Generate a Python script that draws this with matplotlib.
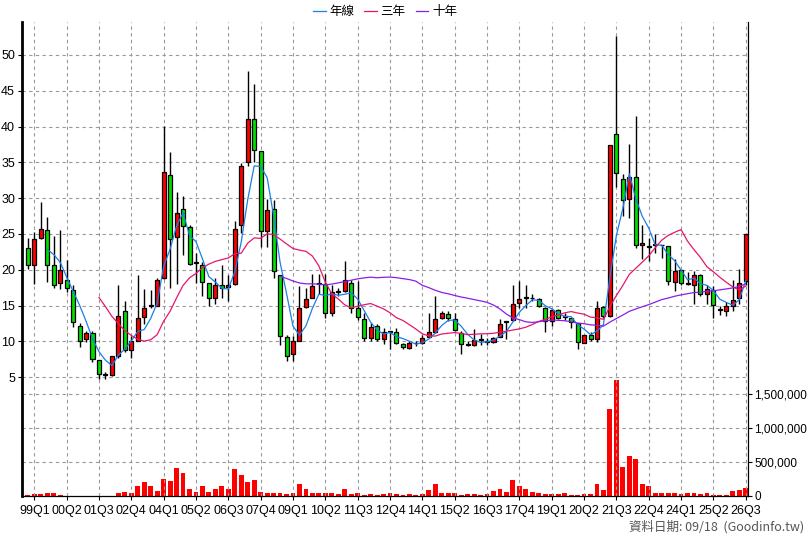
import matplotlib
matplotlib.use("Agg")
import matplotlib.pyplot as plt
import numpy as np
import pandas as pd

plt.rcParams['font.family'] = ['Liberation Sans', 'Noto Sans CJK TC', 'DejaVu Sans']

opens = [23.05,20.65,24.5,25.5,20.65,18.1,18.6,17.2,12.2,10.3,11.1,7.45,5.35,5.25,8.0,14.3,8.8,10.1,13.4,15.0,
         15.0,18.85,33.3,24.55,28.5,26.0,20.9,20.7,18.2,16.0,17.9,17.6,18.05,26.25,35.1,41.1,36.6,25.4,28.5,19.2,
         10.6,8.3,10.1,14.85,16.1,18.0,18.0,13.9,16.95,17.05,18.2,14.6,13.1,10.5,12.15,10.3,11.3,11.3,9.6,9.1,
         9.7,9.8,10.6,11.35,13.2,13.8,13.1,11.2,9.5,9.45,10.15,9.9,9.9,10.65,12.75,12.95,15.4,16.1,16.0,15.9,
         14.7,12.85,14.4,13.4,13.2,12.5,9.8,10.85,10.3,14.74,13.5,38.98,32.7,29.9,32.9,23.4,23.2,23.5,23.4,23.35,
         18.3,19.9,18.0,17.9,19.3,16.65,17.2,14.4,14.2,15.0,16.05,18.4]
closes = [20.65,24.35,25.65,20.65,17.9,20.0,17.4,12.7,10.1,11.1,7.6,5.45,5.35,8.0,13.5,8.8,10.0,13.2,14.6,15.0,
          18.6,33.65,24.3,27.9,26.1,20.8,20.9,18.3,16.1,17.8,17.45,17.9,25.7,34.5,41.1,36.7,25.4,28.3,19.8,10.7,
          8.0,10.05,14.7,15.9,17.75,18.0,13.9,16.9,16.95,18.55,14.7,13.45,10.5,12.05,10.3,11.3,11.3,9.7,9.25,9.8,
          9.7,10.5,11.3,13.1,14.0,13.3,11.55,9.6,9.5,10.15,10.15,9.9,10.5,12.4,12.75,15.2,15.9,16.1,16.0,14.95,
          12.85,14.4,13.3,13.4,12.7,9.9,10.85,10.3,14.6,13.6,37.4,33.5,29.8,32.9,23.5,23.7,23.2,23.5,23.4,18.4,
          19.8,18.2,18.0,19.3,16.65,17.35,15.1,14.4,14.9,15.8,18.15,25.0]
highs = [24.4,25.3,29.4,27.4,24.7,25.5,21.3,17.9,12.6,11.5,11.5,7.45,5.75,8.0,17.9,15.6,10.7,19.3,17.3,17.2,
         18.8,40.05,36.4,30.9,30.3,26.2,22.3,21.1,18.2,18.9,20.6,19.2,26.85,34.95,47.7,46.0,36.6,29.9,29.7,19.2,
         10.9,10.75,17.75,17.5,19.4,19.4,19.4,17.85,17.4,21.25,18.55,18.45,13.9,12.5,12.4,11.8,11.45,11.9,9.8,10.05,
         10.05,10.85,14.0,16.35,14.25,14.25,13.9,11.45,10.05,11.7,11.0,10.5,10.6,13.1,12.75,17.9,18.45,17.8,16.6,16.1,
         14.8,14.5,14.5,14.0,13.2,12.5,10.85,11.3,15.65,14.95,37.4,52.7,33.35,37.6,41.5,26.2,24.5,25.0,23.4,23.35,
         21.5,19.9,19.7,19.8,19.45,17.9,17.7,15.0,15.5,18.5,20.1,25.0]
lows = [20.1,18.0,24.35,18.3,17.4,17.3,16.9,12.0,9.2,9.9,7.1,4.7,4.7,5.2,7.7,8.5,7.7,10.0,12.4,14.6,
        14.9,18.75,17.5,18.0,22.0,20.6,18.1,16.3,14.9,15.2,16.0,15.7,17.8,25.1,34.5,35.1,23.2,23.15,18.9,9.5,
        7.2,7.25,10.05,14.7,16.1,16.6,13.2,13.55,16.35,16.95,13.9,12.95,10.05,10.05,10.05,9.6,8.9,9.6,8.9,8.95,
        9.35,9.6,10.6,11.2,13.1,12.85,11.45,8.2,9.35,9.35,9.45,9.45,9.8,10.6,10.3,12.85,14.7,14.7,15.6,14.8,
        11.35,12.15,13.1,12.95,11.9,9.0,9.7,10.05,9.9,13.3,13.35,31.5,27.45,27.2,23.1,21.5,21.2,22.3,21.6,17.9,
        17.1,17.8,17.8,15.2,16.4,15.2,13.3,13.7,13.6,14.2,15.2,17.9]
volumes = [10,25,25,50,50,10,5,5,5,5,5,5,5,5,50,65,50,140,210,140,
           80,255,225,415,340,110,65,140,65,110,140,110,400,310,210,240,65,50,50,50,
           25,40,180,110,50,50,50,40,25,110,25,40,10,25,10,25,50,25,10,25,
           10,25,95,180,50,40,40,10,25,25,10,25,80,110,65,240,140,110,65,40,
           25,25,25,40,10,10,25,25,170,95,1280,1700,430,590,545,170,140,50,40,50,
           50,25,40,40,25,40,10,10,10,80,95,125]
volumes = [v * 1000 for v in volumes]
tick_labels = ['99Q1','00Q2','01Q3','02Q4','04Q1','05Q2','06Q3','07Q4','09Q1','10Q2','11Q3','12Q4',
               '14Q1','15Q2','16Q3','17Q4','19Q1','20Q2','21Q3','22Q4','24Q1','25Q2','26Q3']
tick_pos = list(range(1, 112, 5))

n = len(closes)
x = np.arange(n)
o = np.array(opens); c = np.array(closes); h = np.array(highs); l = np.array(lows)
cs = pd.Series(c)
ma4 = cs.rolling(4).mean()
ma12 = cs.rolling(12).mean()
ma40 = cs.rolling(40).mean()

fig = plt.figure(figsize=(8.08, 5.40), dpi=100)
ax = fig.add_axes([22/808, 1-496/540, (748-22)/808, (496-22)/540])
axv = ax.twinx()

axv.bar(x, volumes, width=0.75, color='#ff0000', zorder=2)
axv.set_ylim(0, 1.5e6 * 474 / 102)
axv.set_yticks([0, 500000, 1000000, 1500000])
axv.set_yticklabels(['0', '500,000', '1,000,000', '1,500,000'])
axv.grid(axis='y', color='#999999', linestyle=(0, (3, 3)), linewidth=0.8)
axv.tick_params(axis='y', labelsize=8.5, length=3, pad=1.5)

ax.set_zorder(axv.get_zorder() + 1)
ax.patch.set_visible(False)
ax.vlines(x, l, h, color='black', linewidth=1, zorder=3)
up = c >= o
bot = np.minimum(o, c)
height = np.abs(c - o)
height = np.where(height < 0.12, 0.12, height)
colors = np.where(up, '#ff0000', '#00e000')
ax.bar(x, height, bottom=bot, width=0.62, color=colors, edgecolor='black', linewidth=0.9, zorder=4)
ax.plot(x, ma4, color='#1a7fe8', linewidth=0.9, zorder=5, label='年線')
ax.plot(x, ma12, color='#e8156e', linewidth=0.9, zorder=5, label='三年')
ax.plot(x, ma40, color='#8a1ee8', linewidth=0.9, zorder=5, label='十年')

ax.set_ylim(-11.6, 54.6)
ax.set_xlim(-0.9, 111.35)
ax.set_yticks(range(5, 51, 5))
ax.tick_params(axis='y', labelsize=9, length=3, pad=2)
ax.set_xticks(tick_pos)
ax.set_xticklabels(tick_labels, fontsize=9)
ax.tick_params(axis='x', length=3)
for yv in range(5, 51, 5):
    ax.axhline(yv, color='#999999', linestyle=(0, (3, 3)), linewidth=0.8, zorder=1)
for xv in tick_pos:
    ax.axvline(xv, color='#999999', linestyle=(0, (3, 3)), linewidth=0.8, zorder=1)

for a in (ax, axv):
    a.spines['top'].set_visible(False)
ax.spines['left'].set_linewidth(2)

leg = ax.legend(loc='lower center', bbox_to_anchor=(0.5, 0.995), ncol=3, frameon=False,
                prop={'family': ['Noto Sans CJK TC', 'DejaVu Sans'], 'size': 9},
                handlelength=1.0, handletextpad=0.3, columnspacing=0.8, borderpad=0.0)
fig.text(0.995, 0.012, '資料日期: 09/18  (Goodinfo.tw)', ha='right', va='bottom',
         fontsize=9, color='#555555', family=['Noto Sans CJK TC', 'DejaVu Sans'])

fig.savefig('out.png', dpi=100)
